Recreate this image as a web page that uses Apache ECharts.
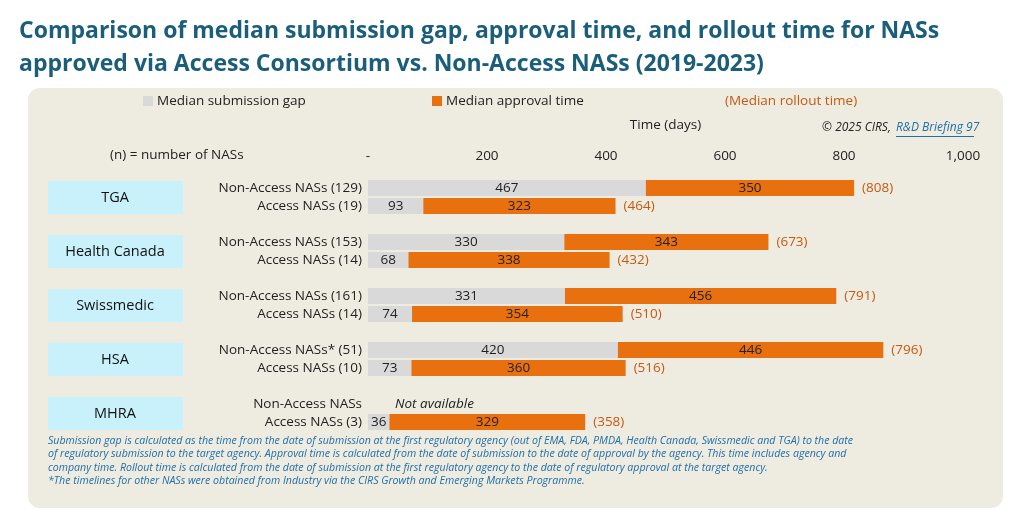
<!DOCTYPE html>
<html style="height: 100%">
<head>
    <meta charset="utf-8">
    <title>ECharts</title>
    <script src="https://cdn.jsdelivr.net/npm/echarts@6/dist/echarts.min.js"></script>
</head>
<body style="height: 100%; margin: 0; background: #fff">
<div id="main" style="width: 1024px; height: 510px"></div>

<script type="text/javascript">
    // '' entries are spacer rows between agency groups
    var rows = ['Non-Access NASs (129)', 'Access NASs (19)', '',
        'Non-Access NASs (153)', 'Access NASs (14)', '',
        'Non-Access NASs (161)', 'Access NASs (14)', '',
        'Non-Access NASs* (51)', 'Access NASs (10)', '',
        'Non-Access NASs', 'Access NASs (3)'];
    var agencies = ['TGA', 'Health Canada', 'Swissmedic', 'HSA', 'MHRA'];
    var submissionGap = [467, 93, null, 330, 68, null, 331, 74, null, 420, 73, null, null, 36];
    var approvalTime = [350, 323, null, 343, 338, null, 456, 354, null, 446, 360, null, null, 329];
    var rolloutTime = [808, 464, null, 673, 432, null, 791, 510, null, 796, 516, null, null, 358];

    var gray = '#d9d9d9', orange = '#e8700e', darkOrange = '#c55a11', blue = '#1f6fa8';
    var gridTop = 179, step = 18;
    var ff = '"Open Sans", sans-serif';

    var graphics = [
        {type: 'rect', shape: {x: 28, y: 88, width: 975, height: 420, r: 12}, style: {fill: '#eeebe0'}, z: -10},
        {type: 'rect', shape: {x: 143, y: 96, width: 10, height: 10}, style: {fill: gray}},
        {type: 'rect', shape: {x: 432, y: 96, width: 10, height: 10}, style: {fill: orange}},
        {type: 'text', x: 157, y: 101, style: {text: 'Median submission gap', font: '13.5px ' + ff, fill: '#222', verticalAlign: 'middle'}},
        {type: 'text', x: 446, y: 101, style: {text: 'Median approval time', font: '13.5px ' + ff, fill: '#222', verticalAlign: 'middle'}},
        {type: 'text', x: 725, y: 101, style: {text: '(Median rollout time)', font: '13.5px ' + ff, fill: darkOrange, verticalAlign: 'middle'}},
        {type: 'text', x: 894, y: 128, style: {text: '© 2025 CIRS, ', font: 'italic 12px ' + ff, fill: '#222', align: 'right', verticalAlign: 'middle'}},
        {type: 'text', x: 896, y: 128, style: {text: 'R&D Briefing 97', font: 'italic 12px ' + ff, fill: blue, verticalAlign: 'middle'}},
        {type: 'rect', shape: {x: 896, y: 136, width: 78, height: 1}, style: {fill: blue}},
        {type: 'text', x: 110, y: 155, style: {text: '(n) = number of NASs', font: '13.5px ' + ff, fill: '#222', verticalAlign: 'middle'}},
        {type: 'text', x: 395, y: 404, style: {text: 'Not available', font: 'italic 13.5px ' + ff, fill: '#222', verticalAlign: 'middle'}}
    ];
    agencies.forEach(function (a, i) {
        var y = gridTop + i * 3 * step + 2;
        graphics.push({type: 'rect', shape: {x: 48, y: y, width: 135, height: 33}, style: {fill: '#c9f1fb'}});
        graphics.push({type: 'text', x: 115, y: y + 17, style: {text: a, font: '14.5px ' + ff, fill: '#111', align: 'center', verticalAlign: 'middle'}});
    });
    var notes = [
        'Submission gap is calculated as the time from the date of submission at the first regulatory agency (out of EMA, FDA, PMDA, Health Canada, Swissmedic and TGA) to the date',
        'of regulatory submission to the target agency. Approval time is calculated from the date of submission to the date of approval by the agency. This time includes agency and',
        'company time. Rollout time is calculated from the date of submission at the first regulatory agency to the date of regulatory approval at the target agency.',
        '*The timelines for other NASs were obtained from Industry via the CIRS Growth and Emerging Markets Programme.'
    ];
    notes.forEach(function (t, i) {
        graphics.push({type: 'text', x: 48, y: 441 + i * 13.3, style: {text: t, font: 'italic 10.6px ' + ff, fill: blue, verticalAlign: 'middle'}});
    });

    var myChart = echarts.init(document.getElementById('main'));
    var option = {
        title: {
            text: 'Comparison of median submission gap, approval time, and rollout time for NASs\napproved via Access Consortium vs. Non-Access NASs (2019-2023)',
            left: 14, top: 10,
            textStyle: {fontSize: 23, fontWeight: 'bold', color: '#1b5e7b', lineHeight: 33, fontFamily: ff}
        },
        graphic: graphics,
        grid: {left: 368, right: 61, top: gridTop, bottom: 510 - gridTop - rows.length * step},
        xAxis: {
            type: 'value', position: 'top', min: 0, max: 1000, interval: 200,
            name: 'Time (days)', nameLocation: 'middle', nameGap: 47,
            nameTextStyle: {fontSize: 13.5, color: '#222', fontFamily: ff},
            axisLine: {show: false}, axisTick: {show: false}, splitLine: {show: false},
            axisLabel: {fontSize: 13.5, color: '#222', margin: 16, fontFamily: ff,
                formatter: function (v) { return v === 0 ? '-' : v.toLocaleString('en-US'); }}
        },
        yAxis: {
            type: 'category', data: rows, inverse: true,
            axisLine: {show: false}, axisTick: {show: false},
            axisLabel: {fontSize: 13.5, color: '#222', margin: 6, interval: 0, fontFamily: ff}
        },
        series: [
            {name: 'Median submission gap', type: 'bar', stack: 't', data: submissionGap, barWidth: 16,
                itemStyle: {color: gray},
                label: {show: true, color: '#222', fontSize: 13.5, fontFamily: ff}},
            {name: 'Median approval time', type: 'bar', stack: 't', data: approvalTime, barWidth: 16,
                itemStyle: {color: orange},
                label: {show: true, color: '#222', fontSize: 13.5, fontFamily: ff}},
            {name: 'Median rollout time', type: 'bar', stack: 't', barWidth: 16,
                data: rolloutTime.map(function (v) { return v === null ? null : 0; }),
                itemStyle: {color: 'transparent'},
                label: {show: true, position: 'right', distance: 8, color: darkOrange, fontSize: 13.5, fontFamily: ff,
                    formatter: function (p) { return '(' + rolloutTime[p.dataIndex] + ')'; }}}
        ]
    };
    myChart.setOption(option, true);
</script>
</body>
</html>
